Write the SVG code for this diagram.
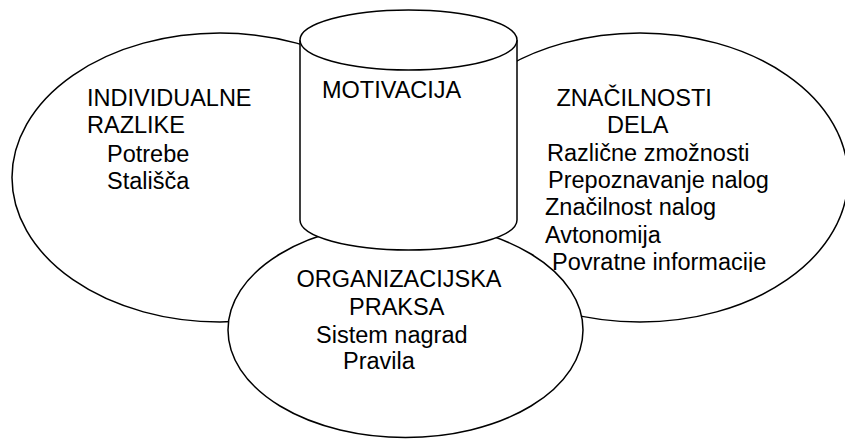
<svg xmlns="http://www.w3.org/2000/svg" width="845" height="439" viewBox="0 0 845 439">
<style>
.s{fill:#fff;stroke:#000;stroke-width:1.5}
.t{font-family:"Liberation Sans",Arial,sans-serif;font-size:23.5px;fill:#000}
</style>
<defs>
<clipPath id="clipR"><rect x="530" y="0" width="315" height="272"/></clipPath>
</defs>
<g id="individualne">
<ellipse class="s" cx="220" cy="177.5" rx="208" ry="144.5"/>
</g>
<g id="znacilnosti">
<ellipse class="s" cx="640" cy="177.5" rx="208" ry="144.5"/>
</g>
<g id="organizacijska">
<ellipse class="s" cx="405.5" cy="330" rx="177.5" ry="107.5"/>
</g>
<g id="motivacija">
<path class="s" d="M300,40 L300,220 A108.5,30 0 0 0 517,220 L517,40"/>
<ellipse class="s" cx="408.5" cy="40" rx="108.5" ry="30"/>
</g>
<g id="labels">
<text class="t" x="87" y="106">INDIVIDUALNE</text>
<text class="t" x="87" y="133">RAZLIKE</text>
<text class="t" x="107" y="161.5">Potrebe</text>
<text class="t" x="107" y="189">Stališča</text>
<text class="t" x="322" y="98">MOTIVACIJA</text>
<text class="t" x="556.5" y="106">ZNAČILNOSTI</text>
<text class="t" x="607" y="133">DELA</text>
<text class="t" x="547" y="161">Različne zmožnosti</text>
<text class="t" x="548" y="188">Prepoznavanje nalog</text>
<text class="t" x="545" y="215">Značilnost nalog</text>
<text class="t" x="545" y="243">Avtonomija</text>
<text class="t" x="552" y="270" clip-path="url(#clipR)">Povratne informacije</text>
<text class="t" x="296.5" y="287">ORGANIZACIJSKA</text>
<text class="t" x="349" y="315">PRAKSA</text>
<text class="t" x="316" y="342.5">Sistem nagrad</text>
<text class="t" x="343" y="369">Pravila</text>
</g>
</svg>
